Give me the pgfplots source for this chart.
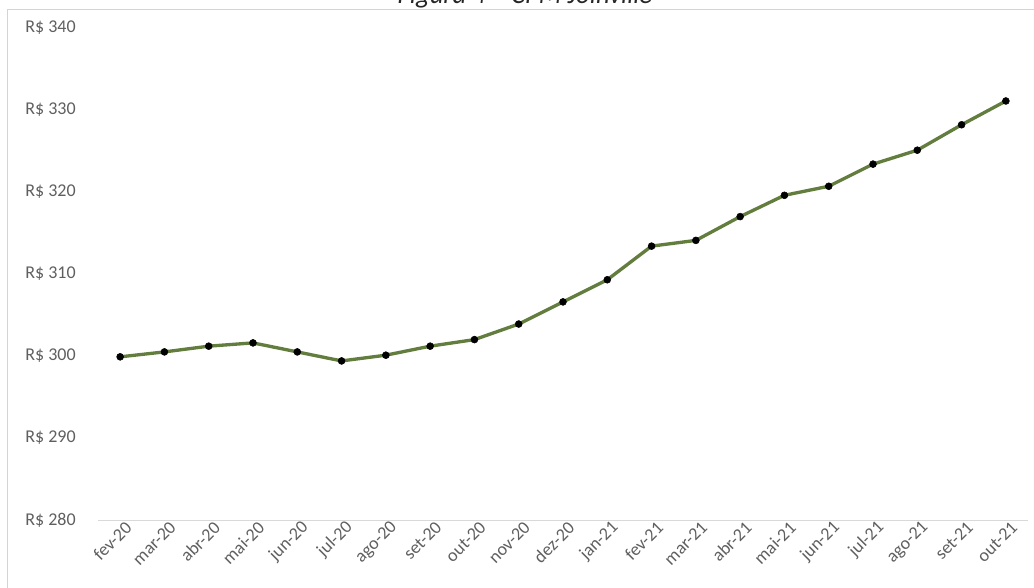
\documentclass[border=0pt]{standalone}
\usepackage{pgfplots}
\pgfplotsset{compat=1.18}
\usepackage{fontspec}
\setmainfont{Carlito}
\definecolor{linegreen}{RGB}{98,125,62}
\definecolor{labelgray}{RGB}{95,95,95}
\definecolor{axisgray}{RGB}{217,217,217}
\definecolor{framegray}{RGB}{212,212,212}

\begin{document}
\begin{tikzpicture}[x=0.75pt,y=0.75pt]
\useasboundingbox (0,0) rectangle (1034,587);
% outer frame and caption
\draw[framegray, line width=0.75pt] (7,-10) -- (7,577) -- (1045,577);
\node[anchor=base, inner sep=0pt, font=\itshape\fontsize{20}{24}\selectfont, text=black!85] at (525,583) {Figura 4 – CPM Joinville};
\begin{axis}[
  at={(73.5pt,50.25pt)}, anchor=south west,
  scale only axis, width=697.5pt, height=369pt,
  xmin=-0.5, xmax=20.5, ymin=280, ymax=340,
  separate axis lines,
  axis x line*=bottom, axis y line*=left,
  y axis line style={draw=none},
  x axis line style={draw=axisgray, line width=0.75pt},
  major tick length=0pt,
  ytick={280,290,300,310,320,330,340},
  yticklabels={R\$ 280,R\$ 290,R\$ 300,R\$ 310,R\$ 320,R\$ 330,R\$ 340},
  xtick={0,...,20},
  xticklabels={fev-20,mar-20,abr-20,mai-20,jun-20,jul-20,ago-20,set-20,out-20,nov-20,dez-20,jan-21,fev-21,mar-21,abr-21,mai-21,jun-21,jul-21,ago-21,set-21,out-21},
  tick label style={font=\fontsize{13.5}{16}\selectfont, text=labelgray},
  yticklabel style={anchor=east, inner sep=0pt, xshift=-16.5pt},
  xticklabel style={rotate=45, anchor=east, inner sep=0pt, xshift=2pt, yshift=-7pt},
  clip=false,
]
\addplot[linegreen, line width=2.5pt, mark=*, mark size=2.6pt,
  mark options={draw=black, fill=black, line width=0.4pt}]
coordinates {
  (0,299.9) (1,300.5) (2,301.2) (3,301.6) (4,300.5) (5,299.4) (6,300.1)
  (7,301.2) (8,302.0) (9,303.9) (10,306.6) (11,309.3) (12,313.4) (13,314.1)
  (14,317.0) (15,319.6) (16,320.7) (17,323.4) (18,325.1) (19,328.2) (20,331.1)
};
\end{axis}
\end{tikzpicture}
\end{document}
